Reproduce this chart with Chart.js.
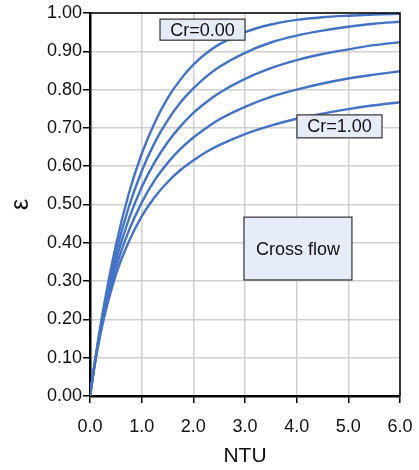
<!DOCTYPE html>
<html lang="en">
<head>
<meta charset="UTF-8">
<title>Cross flow effectiveness</title>
<script src="https://cdn.jsdelivr.net/npm/chart.js"></script>
<style>
  html, body { margin: 0; padding: 0; background: #fff; }
  #wrap { width: 419px; height: 470px; }
</style>
</head>
<body>
<div id="wrap"><canvas id="chart" width="419" height="470"></canvas></div>
<script>
// NTU values and effectiveness curves (Cr = 0, 0.25, 0.5, 0.75, 1)
const ntu = [0, 0.1, 0.25, 0.5, 0.75, 1, 1.25, 1.5, 1.75, 2, 2.25, 2.5, 3, 3.5, 4, 4.5, 5, 5.5, 6];
const epsCr000 = [0, 0.095, 0.221, 0.393, 0.528, 0.632, 0.713, 0.777, 0.826, 0.865, 0.895, 0.918, 0.950, 0.970, 0.982, 0.989, 0.993, 0.996, 0.998];
const epsCr025 = [0, 0.093, 0.213, 0.372, 0.493, 0.587, 0.661, 0.719, 0.766, 0.803, 0.834, 0.859, 0.896, 0.923, 0.941, 0.954, 0.964, 0.972, 0.977];
const epsCr050 = [0, 0.092, 0.206, 0.352, 0.461, 0.545, 0.610, 0.662, 0.704, 0.739, 0.767, 0.791, 0.828, 0.856, 0.877, 0.893, 0.905, 0.916, 0.924];
const epsCr075 = [0, 0.090, 0.198, 0.333, 0.431, 0.505, 0.563, 0.608, 0.645, 0.675, 0.700, 0.722, 0.755, 0.781, 0.800, 0.816, 0.829, 0.839, 0.848];
const epsCr100 = [0, 0.088, 0.191, 0.316, 0.403, 0.469, 0.519, 0.558, 0.590, 0.615, 0.637, 0.655, 0.684, 0.706, 0.724, 0.737, 0.749, 0.759, 0.767];
const seriesNames = ['Cr=0.00', 'Cr=0.25', 'Cr=0.50', 'Cr=0.75', 'Cr=1.00'];
const seriesValues = [epsCr000, epsCr025, epsCr050, epsCr075, epsCr100];

const xTicks = [0, 1, 2, 3, 4, 5, 6];
const yTicks = [0, 0.1, 0.2, 0.3, 0.4, 0.5, 0.6, 0.7, 0.8, 0.9, 1.0];

// text boxes placed in data units: [x0, x1, y0, y1]
const boxes = [
    { text: 'Cr=0.00', area: [1.355, 3.0, 0.984, 0.929] },
    { text: 'Cr=1.00', area: [4.006, 5.652, 0.734, 0.674] },
    { text: 'Cross flow', area: [2.98, 5.07, 0.467, 0.303] }
];

const FONT = '"Liberation Sans", Arial, sans-serif';

const frameAndBoxes = {
    id: 'frameAndBoxes',
    afterDatasetsDraw(chart) {
        const ctx = chart.ctx;
        const a = chart.chartArea;
        const xs = chart.scales.x, ys = chart.scales.y;
        ctx.save();
        // thin top and right border
        ctx.strokeStyle = '#000';
        ctx.lineWidth = 1.5;
        ctx.beginPath();
        ctx.moveTo(a.left, a.top);
        ctx.lineTo(a.right, a.top);
        ctx.lineTo(a.right, a.bottom);
        ctx.stroke();

        boxes.forEach(b => {
            const x0 = xs.getPixelForValue(b.area[0]);
            const x1 = xs.getPixelForValue(b.area[1]);
            const y0 = ys.getPixelForValue(b.area[2]);
            const y1 = ys.getPixelForValue(b.area[3]);
            ctx.fillStyle = '#e6ecf7';
            ctx.fillRect(x0, y0, x1 - x0, y1 - y0);
            ctx.strokeStyle = '#333';
            ctx.lineWidth = 1.2;
            ctx.strokeRect(x0, y0, x1 - x0, y1 - y0);
            ctx.fillStyle = '#111';
            ctx.font = '18px ' + FONT;
            ctx.textAlign = 'center';
            ctx.textBaseline = 'middle';
            ctx.fillText(b.text, (x0 + x1) / 2, (y0 + y1) / 2 + 1);
        });
        ctx.restore();
    }
};

const ctx = document.getElementById('chart').getContext('2d');
const chart = new Chart(ctx, {
    type: 'line',
    data: {
        datasets: seriesValues.map((vals, i) => ({
            label: seriesNames[i],
            data: ntu.map((x, j) => ({ x: x, y: vals[j] })),
            borderColor: '#4472c4',
            borderWidth: 2.4,
            pointRadius: 0,
            fill: false,
            cubicInterpolationMode: 'monotone'
        }))
    },
    options: {
        responsive: false,
        animation: false,
        layout: { padding: { top: 13, right: 19, left: 0, bottom: 0 } },
        plugins: {
            legend: { display: false },
            tooltip: { enabled: false }
        },
        scales: {
            x: {
                type: 'linear',
                min: 0,
                max: 6,
                afterBuildTicks: s => { s.ticks = xTicks.map(v => ({ value: v })); },
                afterFit: s => { s.height = 74; s.paddingLeft = 0; s.paddingRight = 0; },
                grid: { color: '#d0d0d0', lineWidth: 1.5, tickColor: '#000', tickLength: 7, tickWidth: 1.5 },
                border: { display: true, color: '#000', width: 2.5 },
                ticks: {
                    color: '#111',
                    font: { family: FONT, size: 18 },
                    padding: 13,
                    maxRotation: 0,
                    callback: v => Number(v).toFixed(1)
                },
                title: {
                    display: true,
                    text: 'NTU',
                    color: '#111',
                    font: { family: FONT, size: 21 },
                    padding: { top: 0, bottom: 1 }
                }
            },
            y: {
                type: 'linear',
                min: 0,
                max: 1,
                afterBuildTicks: s => { s.ticks = yTicks.map(v => ({ value: v })); },
                afterFit: s => { s.width = 90; s.paddingTop = 0; s.paddingBottom = 0; },
                grid: { color: '#d0d0d0', lineWidth: 1.5, tickColor: '#000', tickLength: 7, tickWidth: 1.5 },
                border: { display: true, color: '#000', width: 2.5 },
                ticks: {
                    color: '#111',
                    font: { family: FONT, size: 18 },
                    padding: 1,
                    callback: v => Number(v).toFixed(2)
                },
                title: {
                    display: true,
                    text: 'ε',
                    color: '#111',
                    font: { family: FONT, size: 25 },
                    padding: { top: 6, bottom: 0 }
                }
            }
        }
    },
    plugins: [frameAndBoxes]
});
</script>
</body>
</html>
